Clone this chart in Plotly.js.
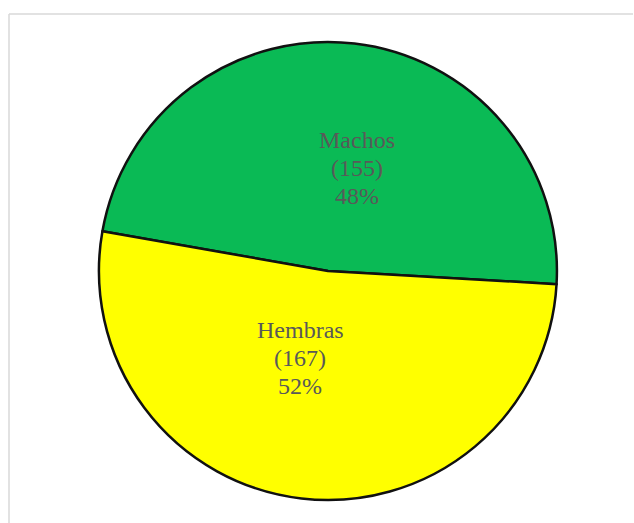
<!DOCTYPE html>
<html>
<head>
<meta charset="utf-8">
<script src="https://cdn.plot.ly/plotly-3.0.1.min.js"></script>
<style>html,body{margin:0;padding:0;background:#fff;}#chart{width:634px;height:523px;}</style>
</head>
<body>
<div id="chart"></div>
<script>
const labels = ["Machos", "Hembras"];
const counts = [155, 167];
const colors = ["#0ABA55", "#FFFF00"];

const W = 634, H = 523;
const total = counts.reduce((a, b) => a + b, 0);
const percents = counts.map(c => Math.round(c / total * 100) + "%");

// label block centres in pixels (layout only)
const labelPos = [[357, 168], [300, 358]];
const lineGap = 28;

const annotations = [];
labels.forEach((l, i) => {
  const lines = [l, "(" + counts[i] + ")", percents[i]];
  lines.forEach((t, k) => {
    annotations.push({
      xref: "paper", yref: "paper",
      x: labelPos[i][0] / W,
      y: 1 - (labelPos[i][1] + (k - 1) * lineGap) / H,
      xanchor: "center", yanchor: "middle",
      text: t, showarrow: false,
      font: { family: "Liberation Serif, Times New Roman, serif", size: 24, color: "#595959" }
    });
  });
});

const trace = {
  type: "pie",
  labels: labels,
  values: counts,
  textinfo: "none",
  sort: false,
  direction: "clockwise",
  rotation: -80,
  marker: { colors: colors, line: { color: "#111111", width: 2.5 } },
  hoverinfo: "label+value+percent",
  domain: { x: [0.156, 0.8785], y: [0.044, 0.9197] },
  showlegend: false
};

const layout = {
  width: W, height: H,
  margin: { l: 0, r: 0, t: 0, b: 0 },
  paper_bgcolor: "#ffffff",
  plot_bgcolor: "#ffffff",
  annotations: annotations,
  shapes: [
    { type: "line", xref: "paper", yref: "paper", x0: 9/W, x1: 633/W, y0: 1 - 14/H, y1: 1 - 14/H, line: { color: "#d9d9d9", width: 1.5 } },
    { type: "line", xref: "paper", yref: "paper", x0: 9/W, x1: 9/W, y0: 0, y1: 1 - 14/H, line: { color: "#d9d9d9", width: 1.5 } }
  ]
};

Plotly.newPlot("chart", [trace], layout, { displayModeBar: false, staticPlot: true });
</script>
</body>
</html>
